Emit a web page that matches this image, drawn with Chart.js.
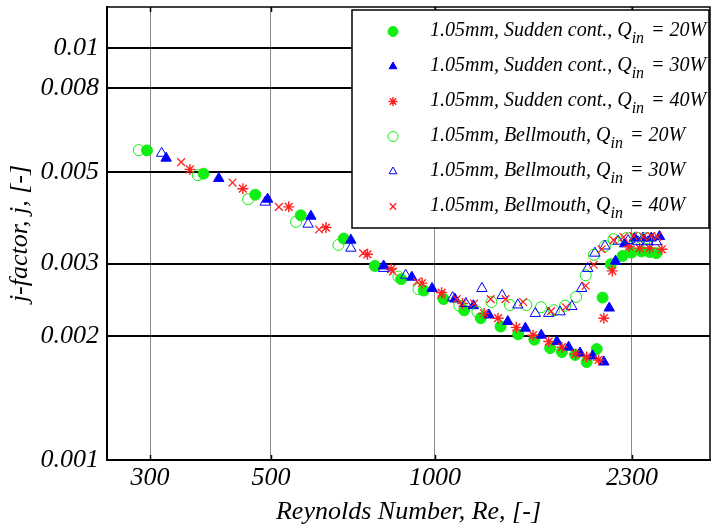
<!DOCTYPE html>
<html><head><meta charset="utf-8">
<script src="https://cdn.jsdelivr.net/npm/chart.js@4.4.1/dist/chart.umd.min.js"></script>
<style>html,body{margin:0;padding:0;background:#fff;} canvas{display:block;}</style>
</head><body>
<canvas id="c" width="717" height="531"></canvas>
<script>
// ---- axis ticks ----
const xTickValues = [300, 500, 1000, 2300];
const yTickValues = [0.001, 0.002, 0.003, 0.005, 0.008, 0.01];

// ---- legend text ----
const legendInlet = ['Sudden cont.', 'Sudden cont.', 'Sudden cont.', 'Bellmouth', 'Bellmouth', 'Bellmouth'];
const legendQ = [20, 30, 40, 20, 30, 40];

// ---- data: Reynolds number and j-factor ----
const reSudden20 = [296, 376, 468, 567, 680, 776, 867, 954, 1037, 1132, 1214, 1320, 1422, 1523, 1628, 1711, 1809, 1900, 1982, 2032, 2104, 2211, 2296, 2394, 2479, 2550];
const jSudden20  = [0.00565, 0.00496, 0.00441, 0.00393, 0.00345, 0.00296, 0.00275, 0.00258, 0.00246, 0.00231, 0.00221, 0.00211, 0.00202, 0.00196, 0.00187, 0.00183, 0.00180, 0.00173, 0.00186, 0.00248, 0.00299, 0.00313, 0.00319, 0.00321, 0.00320, 0.00318];

const reSudden30 = [321, 401, 493, 592, 701, 805, 907, 988, 1088, 1177, 1257, 1361, 1466, 1568, 1675, 1760, 1847, 1948, 2043, 2090, 2146, 2231, 2327, 2411, 2497, 2585];
const jSudden30  = [0.00541, 0.00483, 0.00430, 0.00391, 0.00342, 0.00296, 0.00278, 0.00261, 0.00246, 0.00237, 0.00225, 0.00217, 0.00209, 0.00201, 0.00194, 0.00188, 0.00182, 0.00179, 0.00173, 0.00234, 0.00304, 0.00335, 0.00346, 0.00346, 0.00346, 0.00349];

const reSudden40 = [355, 444, 539, 631, 752, 831, 947, 1029, 1124, 1231, 1306, 1411, 1514, 1618, 1711, 1814, 1900, 1998, 2043, 2117, 2273, 2377, 2479, 2611];
const jSudden40  = [0.00508, 0.00456, 0.00412, 0.00367, 0.00316, 0.00291, 0.00269, 0.00255, 0.00240, 0.00227, 0.00221, 0.00210, 0.00201, 0.00194, 0.00188, 0.00181, 0.00178, 0.00175, 0.00221, 0.00288, 0.00330, 0.00327, 0.00327, 0.00325];

const reBell20 = [286, 367, 454, 556, 665, 857, 933, 1109, 1197, 1270, 1373, 1472, 1566, 1654, 1734, 1817, 1892, 1959, 2052, 2128, 2247, 2344, 2445];
const jBell20  = [0.00566, 0.00492, 0.00430, 0.00379, 0.00333, 0.00279, 0.00260, 0.00237, 0.00229, 0.00242, 0.00238, 0.00238, 0.00235, 0.00231, 0.00237, 0.00249, 0.00281, 0.00315, 0.00331, 0.00344, 0.00346, 0.00347, 0.00346];

const reBell30 = [315, 488, 585, 701, 805, 884, 1078, 1140, 1220, 1329, 1420, 1529, 1618, 1698, 1784, 1860, 1908, 1967, 2052, 2171, 2264, 2361, 2462, 2550];
const jBell30  = [0.00556, 0.00423, 0.00374, 0.00327, 0.00292, 0.00281, 0.00248, 0.00240, 0.00261, 0.00251, 0.00238, 0.00227, 0.00227, 0.00229, 0.00236, 0.00261, 0.00292, 0.00318, 0.00331, 0.00340, 0.00341, 0.00339, 0.00339, 0.00339];

const reBell40 = [342, 425, 517, 613, 738, 837, 927, 1026, 1097, 1180, 1266, 1348, 1452, 1634, 1740, 1892, 1957, 2024, 2128, 2220, 2316, 2414, 2497, 2560];
const jBell40  = [0.00529, 0.00472, 0.00412, 0.00363, 0.00318, 0.00287, 0.00271, 0.00252, 0.00246, 0.00240, 0.00246, 0.00246, 0.00242, 0.00230, 0.00235, 0.00265, 0.00298, 0.00325, 0.00342, 0.00348, 0.00350, 0.00349, 0.00350, 0.00349];

const FONT = "'Liberation Serif', 'Times New Roman', serif";
const GREEN = '#11ee11', BLUE = '#0000ff', RED = '#ff2020';

const markerStyles = [
  {pointStyle: 'circle',   r: 5.5, lr: 5,   fill: GREEN, stroke: GREEN, bw: 1},
  {pointStyle: 'triangle', r: 6,   lr: 4.5, fill: BLUE,  stroke: BLUE,  bw: 1},
  {pointStyle: 'star',     r: 5.5, lr: 4.5, fill: RED,   stroke: RED,   bw: 1.4},
  {pointStyle: 'circle',   r: 5.5, lr: 5,   fill: 'rgba(0,0,0,0)', stroke: GREEN, bw: 1},
  {pointStyle: 'triangle', r: 6,   lr: 4.5, fill: 'rgba(0,0,0,0)', stroke: BLUE,  bw: 1},
  {pointStyle: 'crossRot', r: 5.5, lr: 4.5, fill: RED,   stroke: RED,   bw: 1.3},
];

const xs = [reSudden20, reSudden30, reSudden40, reBell20, reBell30, reBell40];
const ys = [jSudden20, jSudden30, jSudden40, jBell20, jBell30, jBell40];

const datasets = xs.map((xArr, i) => ({
  label: '1.05mm, ' + legendInlet[i] + ', Qin = ' + legendQ[i] + 'W',
  data: xArr.map((x, k) => ({x: x, y: ys[i][k]})),
  showLine: false,
  pointStyle: markerStyles[i].pointStyle,
  pointRadius: markerStyles[i].r,
  pointBackgroundColor: markerStyles[i].fill,
  pointBorderColor: markerStyles[i].stroke,
  pointBorderWidth: markerStyles[i].bw,
  order: 6 - i
}));

const frameAndLegend = {
  id: 'frameAndLegend',
  afterDatasetsDraw(chart) {
    const ctx = chart.ctx, a = chart.chartArea;
    ctx.save();
    ctx.strokeStyle = '#000';
    ctx.lineWidth = 1.5;
    ctx.strokeRect(a.left, a.top, a.right - a.left, a.bottom - a.top);
    // small inner tick marks on top and bottom edges
    const xs = chart.scales.x;
    ctx.lineWidth = 1.5;
    xTickValues.forEach(v => {
      const px = Math.round(xs.getPixelForValue(v)) + 0.5;
      ctx.beginPath();
      ctx.moveTo(px, a.top); ctx.lineTo(px, a.top + 5);
      ctx.moveTo(px, a.bottom); ctx.lineTo(px, a.bottom - 5);
      ctx.stroke();
    });
    // legend box
    const bx = 352, by = 10, bw = 357, bh = 218;
    ctx.fillStyle = '#fff';
    ctx.fillRect(bx, by, bw, bh);
    ctx.lineWidth = 1.5;
    ctx.strokeRect(bx, by, bw, bh);
    for (let i = 0; i < 6; i++) {
      const y = 31.5 + 35 * i;
      const m = markerStyles[i];
      ctx.fillStyle = m.fill;
      ctx.strokeStyle = m.stroke;
      ctx.lineWidth = m.bw;
      Chart.helpers.drawPoint(ctx, {pointStyle: m.pointStyle, radius: m.lr, rotation: 0, borderWidth: m.bw}, 393, y);
      ctx.fillStyle = '#000';
      ctx.textBaseline = 'alphabetic';
      ctx.textAlign = 'left';
      ctx.font = 'italic 20px ' + FONT;
      const pre = '1.05mm, ' + legendInlet[i] + ', Q';
      let x = 430;
      ctx.fillText(pre, x, y + 4);
      x += ctx.measureText(pre).width;
      ctx.font = 'italic 16px ' + FONT;
      ctx.fillText('in', x, y + 11);
      x += ctx.measureText('in').width;
      ctx.font = 'italic 20px ' + FONT;
      ctx.fillText(' = ' + legendQ[i] + 'W', x + 2, y + 4);
    }
    ctx.restore();
  }
};

new Chart(document.getElementById('c'), {
  type: 'scatter',
  data: {datasets: datasets},
  options: {
    responsive: false,
    animation: false,
    devicePixelRatio: 1,
    layout: {padding: {left: 0, right: 4, top: 7, bottom: 0}},
    plugins: {legend: {display: false}, tooltip: {enabled: false}},
    scales: {
      x: {
        type: 'logarithmic',
        min: 250, max: 3200,
        afterBuildTicks: (axis) => { axis.ticks = xTickValues.map(v => ({value: v})); },
        afterFit: (s) => { s.height = 71; s.paddingLeft = 0; s.paddingRight = 0; },
        ticks: {
          autoSkip: false, maxRotation: 0, padding: 3, color: '#000',
          font: {family: FONT, size: 26, style: 'italic'},
          callback: (v) => String(v)
        },
        grid: {color: '#8a8a8a', lineWidth: 1, drawTicks: false},
        border: {display: true, color: '#000', width: 2},
        title: {display: true, text: 'Reynolds Number, Re, [-]', color: '#000',
                font: {family: FONT, size: 26, style: 'italic'}, padding: {top: 0, bottom: 3}}
      },
      y: {
        type: 'logarithmic',
        min: 0.001, max: 0.0126,
        afterBuildTicks: (axis) => { axis.ticks = yTickValues.map(v => ({value: v})); },
        afterFit: (s) => { s.width = 107; s.paddingTop = 0; s.paddingBottom = 0; },
        ticks: {
          autoSkip: false, padding: 8, color: '#000',
          font: {family: FONT, size: 26, style: 'italic'},
          callback: (v) => String(v)
        },
        grid: {color: '#000', lineWidth: 2, drawTicks: false},
        border: {display: true, color: '#000', width: 2},
        title: {display: true, text: 'j-factor, j, [-]', color: '#000',
                font: {family: FONT, size: 26, style: 'italic'}, padding: {top: 5, bottom: 0}}
      }
    }
  },
  plugins: [frameAndLegend]
});
</script>
</body></html>
